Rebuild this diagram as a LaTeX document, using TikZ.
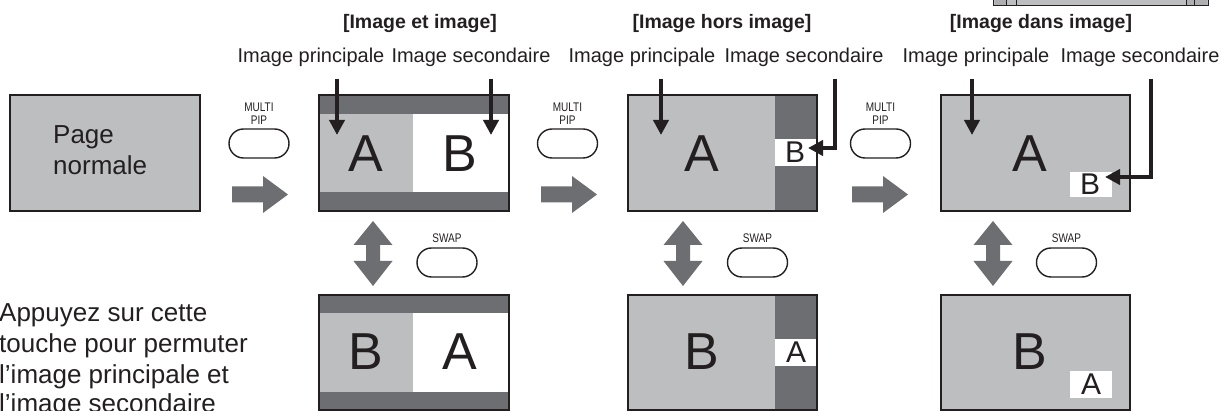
\documentclass[tikz,border=0pt]{standalone}
\usepackage{fontspec}
\setmainfont{Liberation Sans}
\usetikzlibrary{arrows.meta}
\definecolor{lg}{HTML}{BCBEC0}
\definecolor{dg}{HTML}{6D6E71}
\definecolor{ink}{HTML}{231F20}
\newcommand\keytxt[1]{\scalebox{0.8}[1]{#1}}
\tikzset{
  frame/.style={draw=ink, line width=1.2pt},
  pill/.style={draw=ink, line width=1.4pt, rounded corners=14.5pt, minimum width=60pt, minimum height=29pt, inner sep=0pt},
  keylbl/.style={font=\fontsize{12.5}{13}\selectfont, text=ink, inner sep=0pt, anchor=base},
  lbl/.style={font=\fontsize{20}{24}\selectfont, text=ink, inner sep=0pt, anchor=base},
  ttl/.style={font=\bfseries\fontsize{19.5}{24}\selectfont, text=ink, inner sep=0pt, anchor=base},
  big/.style={font=\fontsize{52}{52}\selectfont, text=ink, inner sep=0pt, anchor=base},
  small/.style={font=\fontsize{30}{30}\selectfont, text=ink, inner sep=0pt, anchor=base},
  note/.style={font=\fontsize{26}{31}\selectfont, text=ink, inner sep=0pt, anchor=base west},
  ptr/.style={draw=ink, line width=4pt, -{Triangle[length=15pt,width=15pt]}, line join=miter},
  pics/blockright/.style={code={\fill[dg] (0,-8)--(31,-8)--(31,-18.5)--(56,0)--(31,18.5)--(31,8)--(0,8)--cycle;}},
  pics/blockupdown/.style={code={\fill[dg] (0,-32.5)--(19.5,-8.5)--(7,-8.5)--(7,7.5)--(19.5,7.5)--(0,32.5)--(-19.5,7.5)--(-7,7.5)--(-7,-8.5)--(-19.5,-8.5)--cycle;}}
}
\begin{document}
\begin{tikzpicture}[x=1pt,y=-1pt]
\useasboundingbox (0,0) rectangle (1232,411);

% fragment of another picture at the top right
\fill[lg] (993,-10) rectangle (1208,5);
\fill[lg!80!dg] (995,-10) rectangle (1006,5);
\fill[lg!80!dg] (1187,-10) rectangle (1207,5);
\draw[ink, line width=0.9pt] (993,-10) -- (993,5) -- (1208,5) -- (1208,-10);
\draw[ink, line width=0.9pt] (1006,-10) -- (1006,5) (1016,-10) -- (1016,5) (1186,-10) -- (1186,5) (1194,-10) -- (1194,5);

% titles
\node[ttl] (t1) at (420,29) {[Image et image]};
\node[ttl] (t2) at (722,29) {[Image hors image]};
\node[ttl] (t3) at (1041,29) {[Image dans image]};

% labels
\node[lbl] (p1) at (311,63) {Image principale};
\node[lbl] (s1) at (471,63) {Image secondaire};
\node[lbl] (p2) at (642,63) {Image principale};
\node[lbl] (s2) at (804,63) {Image secondaire};
\node[lbl] (p3) at (976,63) {Image principale};
\node[lbl] (s3) at (1140,63) {Image secondaire};

% Page normale
\draw[frame, fill=lg] (10,95) rectangle (200,211);
\node[note] (pn1) at (53,144) {Page};
\node[note] (pn2) at (53,175) {normale};

% keys MULTI PIP
\foreach \cx/\n in {259/1, 567.5/2, 880.5/3}{
  \node[keylbl] (mu\n) at (\cx,112) {\keytxt{MULTI}};
  \node[keylbl] (pip\n) at (\cx,125) {\keytxt{PIP}};
  \node[pill] (key\n) at (\cx,143.5) {};
}
\pic at (232,194.5) {blockright};
\pic at (541,194.5) {blockright};
\pic at (852,194.5) {blockright};

% keys SWAP
\foreach \cx/\n in {447/1, 757.5/2, 1066.5/3}{
  \node[keylbl] (sw\n) at (\cx,243) {\keytxt{SWAP}};
  \node[pill] (skey\n) at (\cx,262.5) {};
}
\pic at (373,253.5) {blockupdown};
\pic at (683,253.5) {blockupdown};
\pic at (993,253.5) {blockupdown};

% Box 1 top: Image et image
\fill[lg] (319,95) rectangle (413,211);
\fill[white] (413,95) rectangle (509,211);
\fill[dg] (319,95) rectangle (509,114);
\fill[dg] (319,192) rectangle (509,211);
\draw[frame] (319,95) rectangle (509,211);
\node[big] (a1) at (366,172) {A};
\node[big] (b1) at (460,172) {B};

% Box 1 bottom
\fill[lg] (319,295) rectangle (413,410);
\fill[white] (413,295) rectangle (509,410);
\fill[dg] (319,295) rectangle (509,313);
\fill[dg] (319,392) rectangle (509,410);
\draw[frame] (319,295) rectangle (509,410);
\node[big] (b1b) at (366,370) {B};
\node[big] (a1b) at (460,370) {A};

% Box 2 top: Image hors image
\fill[lg] (628,95) rectangle (775,211);
\fill[dg] (775,95) rectangle (817,211);
\fill[white] (775,139) rectangle (817,166);
\draw[frame] (628,95) rectangle (817,211);
\node[big] (a2) at (702,172) {A};
\node[small] (b2) at (795,163) {B};

% Box 2 bottom
\fill[lg] (628,295) rectangle (775,410);
\fill[dg] (775,295) rectangle (817,410);
\fill[white] (775,339) rectangle (817,366);
\draw[frame] (628,295) rectangle (817,410);
\node[big] (b2b) at (702,370) {B};
\node[small] (a2b) at (796,363) {A};

% Box 3 top: Image dans image
\draw[frame, fill=lg] (941,95) rectangle (1130,211);
\fill[white] (1070,172) rectangle (1112,197);
\node[big] (a3) at (1030,172) {A};
\node[small] (b3) at (1090,195) {B};

% Box 3 bottom
\draw[frame, fill=lg] (941,295) rectangle (1130,410);
\fill[white] (1070,371) rectangle (1112,398);
\node[big] (b3b) at (1030,370) {B};
\node[small] (a3b) at (1091,395) {A};

% pointer arrows
\coordinate (p1s) at (337,79); \coordinate (p1e) at (337,135);
\coordinate (s1s) at (491,79); \coordinate (s1e) at (491,135);
\coordinate (p2s) at (661,79); \coordinate (p2e) at (661,135);
\coordinate (s2s) at (835,79); \coordinate (s2e) at (808,148);
\coordinate (p3s) at (972,79); \coordinate (p3e) at (972,135);
\coordinate (s3s) at (1151,79); \coordinate (s3e) at (1105,177);
\draw[ptr] (p1s) -- (p1e);
\draw[ptr] (s1s) -- (s1e);
\draw[ptr] (p2s) -- (p2e);
\draw[ptr] (s2s) |- (s2e);
\draw[ptr] (p3s) -- (p3e);
\draw[ptr] (s3s) |- (s3e);

% explanatory text
\node[note] (n1) at (-1,322) {Appuyez sur cette};
\node[note] (n2) at (-1,353) {touche pour permuter};
\node[note] (n3) at (-1,383.5) {l’image principale et};
\node[note] (n4) at (-1,413) {l’image secondaire};
\end{tikzpicture}
\end{document}
